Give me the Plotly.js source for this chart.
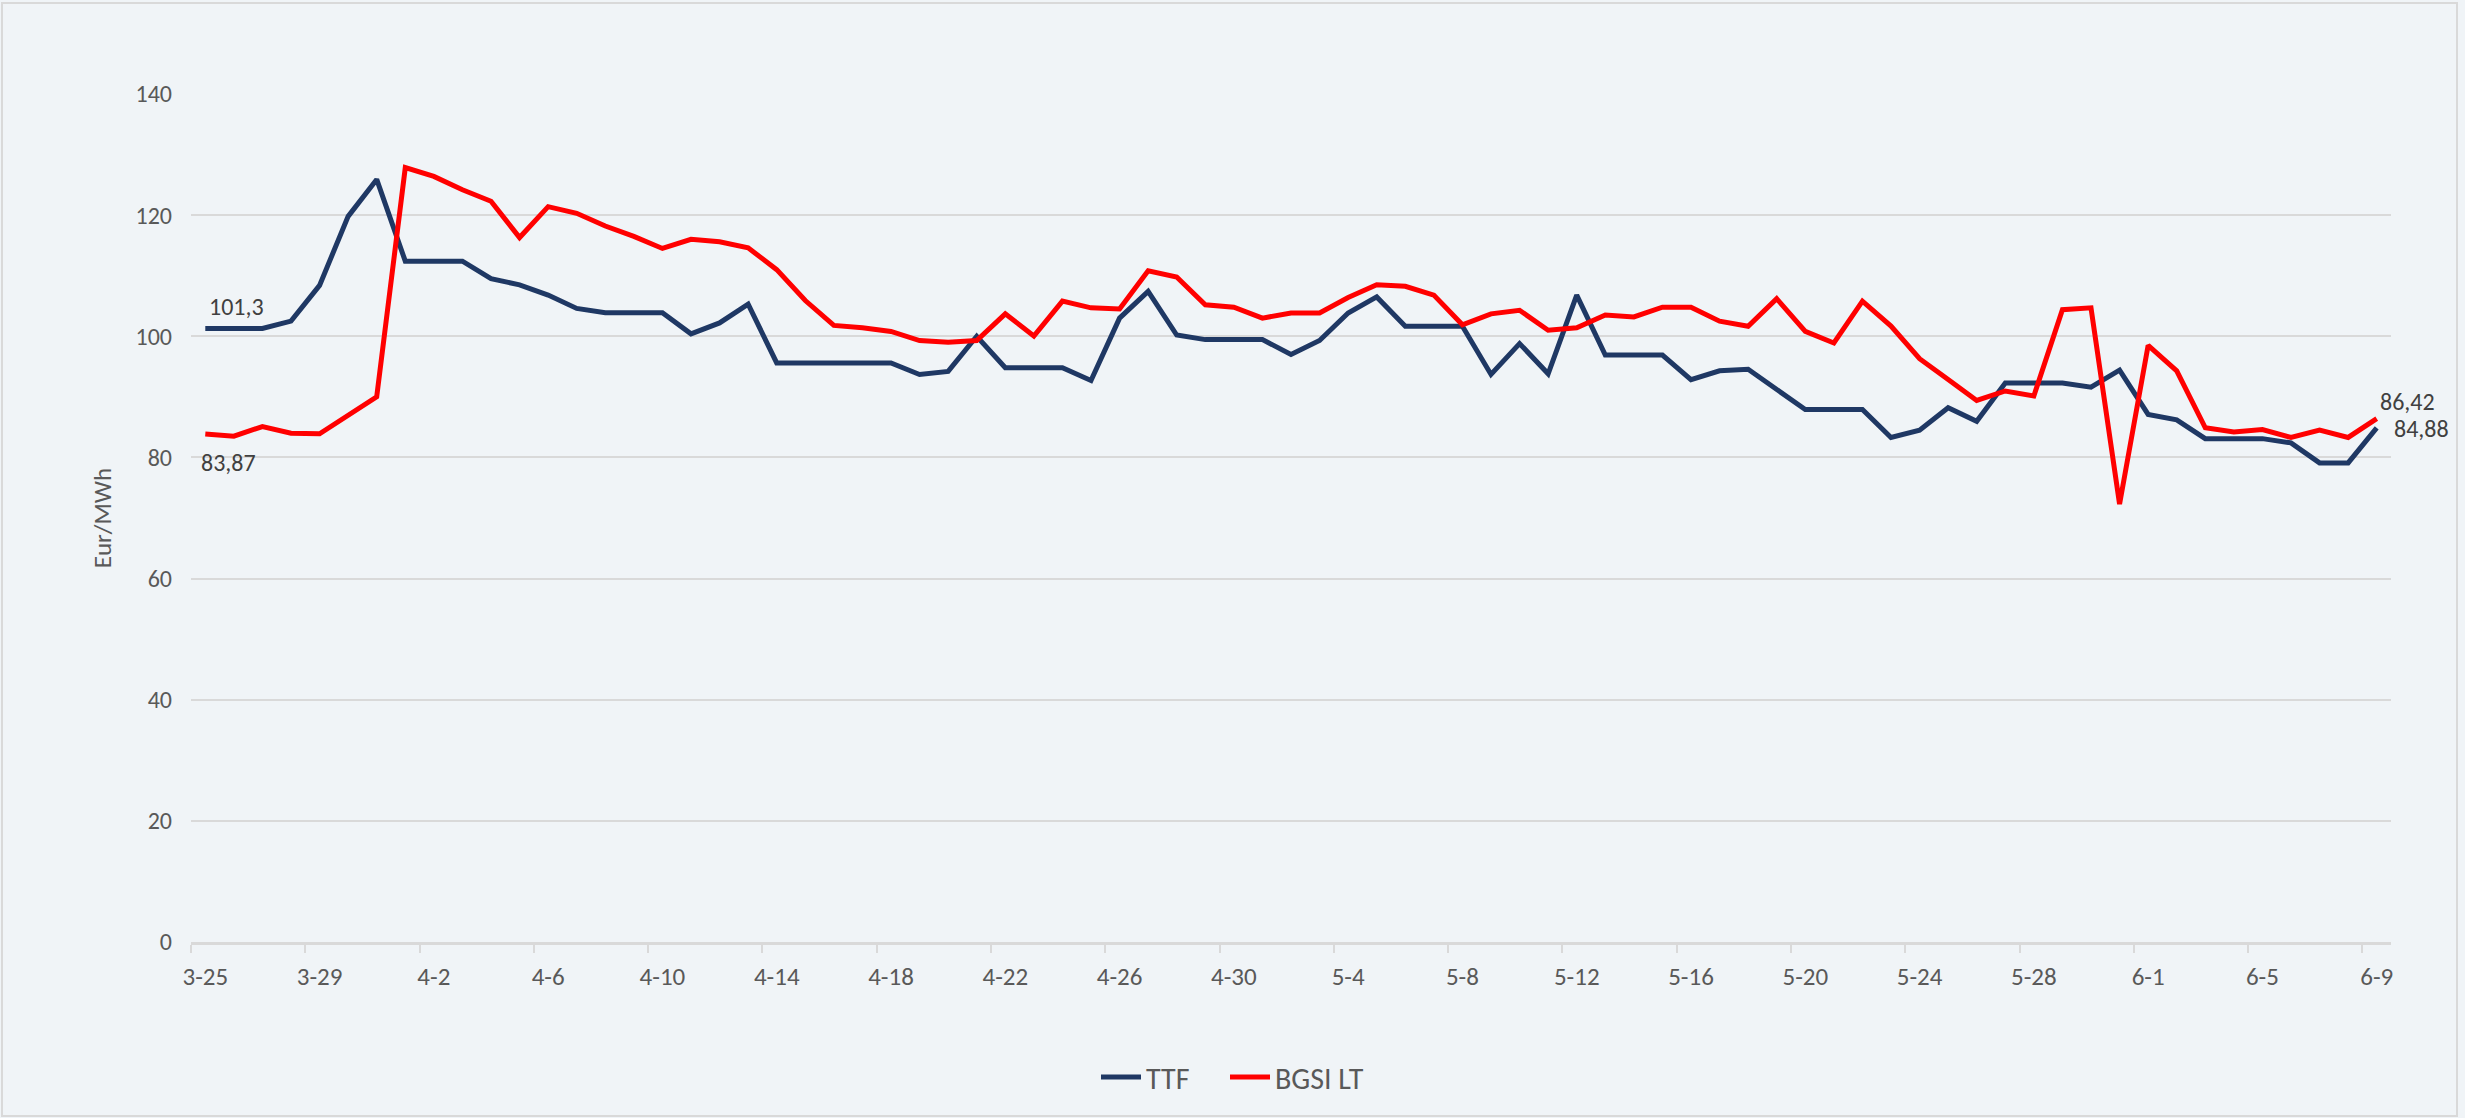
<!DOCTYPE html>
<html>
<head>
<meta charset="utf-8">
<script src="https://cdn.plot.ly/plotly-3.0.1.min.js"></script>
<style>
  html, body { margin: 0; padding: 0; background: #F0F4F7; }
  #chart { width: 2465px; height: 1118px; }
</style>
</head>
<body>
<div id="chart"></div>
<script>
const categories = [
  "3-25","3-26","3-27","3-28","3-29","3-30","3-31",
  "4-1","4-2","4-3","4-4","4-5","4-6","4-7","4-8","4-9","4-10","4-11","4-12","4-13","4-14","4-15",
  "4-16","4-17","4-18","4-19","4-20","4-21","4-22","4-23","4-24","4-25","4-26","4-27","4-28","4-29","4-30",
  "5-1","5-2","5-3","5-4","5-5","5-6","5-7","5-8","5-9","5-10","5-11","5-12","5-13","5-14","5-15","5-16",
  "5-17","5-18","5-19","5-20","5-21","5-22","5-23","5-24","5-25","5-26","5-27","5-28","5-29","5-30","5-31",
  "6-1","6-2","6-3","6-4","6-5","6-6","6-7","6-8","6-9"
];

const ttf = [
  101.3, 101.3, 101.3, 102.5, 108.4, 119.8, 125.9, 112.4, 112.4, 112.4,
  109.5, 108.5, 106.8, 104.6, 103.9, 103.9, 103.9, 100.4, 102.2, 105.3,
  95.6, 95.6, 95.6, 95.6, 95.6, 93.7, 94.2, 100.0, 94.8, 94.8,
  94.8, 92.7, 103.0, 107.4, 100.2, 99.45, 99.45, 99.45, 97.0, 99.3,
  103.85, 106.5, 101.65, 101.65, 101.65, 93.7, 98.8, 93.8, 106.8, 96.9,
  96.9, 96.9, 92.85, 94.3, 94.55, 91.1, 87.9, 87.9, 87.9, 83.3,
  84.5, 88.2, 85.97, 92.3, 92.3, 92.3, 91.6, 94.4, 87.1, 86.2,
  83.1, 83.1, 83.1, 82.4, 79.1, 79.1, 84.88
];

const bgsi = [
  83.87, 83.5, 85.1, 84.0, 83.9, 87.0, 90.0, 127.85, 126.4, 124.2,
  122.3, 116.3, 121.4, 120.3, 118.2, 116.5, 114.5, 116.0, 115.6, 114.6,
  111.0, 105.9, 101.8, 101.4, 100.8, 99.3, 99.0, 99.3, 103.7, 100.05,
  105.8, 104.7, 104.5, 110.8, 109.8, 105.2, 104.8, 103.0, 103.85, 103.85,
  106.4, 108.5, 108.25, 106.8, 101.9, 103.7, 104.3, 101.0, 101.4, 103.5,
  103.2, 104.8, 104.8, 102.5, 101.65, 106.2, 100.8, 98.9, 105.8, 101.7,
  96.3, 92.85, 89.4, 90.97, 90.15, 104.4, 104.7, 72.3, 98.5, 94.3,
  84.9, 84.2, 84.6, 83.3, 84.5, 83.3, 86.42
];

const seriesNames = ["TTF", "BGSI LT"];
const yTitle = "Eur/MWh";

const FONT = "Carlito, 'Liberation Sans Narrow', 'Arial Narrow', 'Roboto Condensed', 'DejaVu Sans Condensed', sans-serif";
const BG = "#F0F4F7";
const GRID = "#D9D9D9";
const TXT = "#595959";
const LBL = "#404040";

const fmt = v => String(v).replace(".", ",");
const last = categories.length - 1;

const traces = [
  { type: "scatter", mode: "lines", name: seriesNames[0], x: categories, y: ttf,
    line: { color: "#1F3864", width: 5 }, hoverinfo: "x+y", legend: "legend" },
  { type: "scatter", mode: "lines", name: seriesNames[1], x: categories, y: bgsi,
    line: { color: "#FF0000", width: 5 }, hoverinfo: "x+y", legend: "legend2" }
];

const L = 191, R = 74, T = 94, B = 176, W = 2465, H = 1118;
const pw = W - L - R, ph = H - T - B;
const px = x => (x - L) / pw;
const py = y => (H - B - y) / ph;

const annLabel = (xv, yv, xs, ys) => ({
  xref: "x", yref: "y", x: xv, y: yv, text: fmt(yv), showarrow: false,
  xshift: xs, yshift: ys, font: { family: FONT, size: 24, color: LBL },
  xanchor: "center", yanchor: "middle"
});

const legendBase = (xpx) => ({
  orientation: "h", x: px(xpx), xanchor: "left", y: py(1077), yanchor: "middle",
  font: { family: FONT, size: 30, color: TXT }, bgcolor: "rgba(0,0,0,0)",
  itemwidth: 40, tracegroupgap: 0
});

const layout = {
  width: W, height: H,
  paper_bgcolor: BG, plot_bgcolor: BG,
  margin: { l: L, r: R, t: T, b: B, pad: 0 },
  font: { family: FONT, color: TXT },
  showlegend: true,
  legend: legendBase(1096),
  legend2: legendBase(1225),
  xaxis: {
    type: "category", categoryorder: "array", categoryarray: categories,
    range: [-0.5, last + 0.5],
    tickmode: "linear", tick0: 0, dtick: 4, tickson: "boundaries",
    ticks: "outside", ticklen: 8, tickwidth: 2, tickcolor: GRID,
    tickangle: 0,
    showline: true, linecolor: GRID, linewidth: 2.5,
    showgrid: false, zeroline: false,
    tickfont: { family: FONT, size: 25, color: TXT },
    ticklabelstandoff: 10,
    automargin: false, fixedrange: true
  },
  yaxis: {
    range: [0, 140], tickmode: "linear", tick0: 0, dtick: 20,
    showgrid: true, gridcolor: GRID, gridwidth: 2,
    zeroline: false, showline: false, ticks: "",
    tickfont: { family: FONT, size: 24, color: TXT },
    ticklabelstandoff: 18,
    title: { text: yTitle, font: { family: FONT, size: 25, color: TXT }, standoff: 16 },
    automargin: false, fixedrange: true
  },
  annotations: [
    annLabel(categories[0], ttf[0], 31, 22),
    annLabel(categories[0], bgsi[0], 23, -29),
    annLabel(categories[last], bgsi[last], 31, 17),
    annLabel(categories[last], ttf[last], 45, -1)
  ],
  shapes: [
    { type: "rect", xref: "paper", yref: "paper",
      x0: px(2), x1: px(2457), y0: py(1116), y1: py(3),
      line: { color: GRID, width: 2 }, fillcolor: "rgba(0,0,0,0)", layer: "below" }
  ]
};

Plotly.newPlot("chart", traces, layout, { displayModeBar: false, staticPlot: true });
</script>
</body>
</html>
